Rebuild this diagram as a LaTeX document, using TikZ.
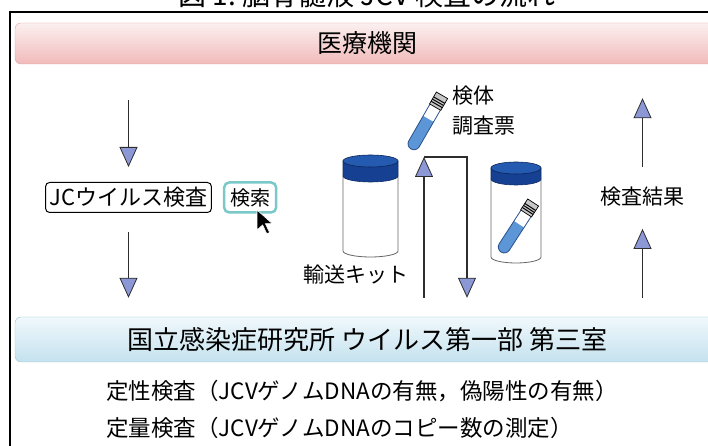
\documentclass[tikz,border=0pt]{standalone}
\usepackage{fontspec}
\setmainfont{Noto Sans CJK JP}
\usepackage{tikz}
\usetikzlibrary{arrows.meta,positioning}

\definecolor{pinktop}{RGB}{252,240,240}
\definecolor{pinkbot}{RGB}{241,186,186}
\definecolor{pinkline}{RGB}{220,160,160}
\definecolor{skytop}{RGB}{240,248,252}
\definecolor{skybot}{RGB}{196,226,238}
\definecolor{skyline}{RGB}{150,196,214}
\definecolor{headblue}{RGB}{140,152,214}
\definecolor{searchteal}{RGB}{122,200,200}
\definecolor{capblue}{RGB}{22,64,146}
\definecolor{captop}{RGB}{36,90,176}
\definecolor{liquid}{RGB}{92,150,215}
\definecolor{tubeline}{RGB}{40,80,140}
\definecolor{shaft}{RGB}{45,45,45}

\tikzstyle{bar} = [rectangle, rounded corners=6pt, minimum width=705pt, text centered, font=\fontsize{25}{30}\selectfont]
\tikzstyle{hospital} = [bar, draw=pinkline, top color=pinktop, bottom color=pinkbot, minimum height=41pt]
\tikzstyle{institute} = [bar, draw=skyline, top color=skytop, bottom color=skybot, minimum height=45pt, font=\fontsize{26}{31}\selectfont]
\tikzstyle{testbox} = [rectangle, rounded corners=4pt, draw=black, line width=1pt, inner xsep=4pt, minimum height=30pt, font=\fontsize{22}{26}\selectfont]
\tikzstyle{searchbox} = [rectangle, rounded corners=5pt, draw=searchteal, line width=2.5pt, fill=white, inner xsep=6pt, minimum height=30pt, font=\fontsize{20}{24}\selectfont]
\tikzstyle{textonly} = [draw=none, fill=none, inner sep=0pt, font=\fontsize{21}{25}\selectfont]
\tikzstyle{rowtext} = [textonly, anchor=west, font=\fontsize{22.5}{27}\selectfont]
\tikzstyle{tedge} = [draw=shaft, line width=1.8pt, -{Triangle[width=18pt,length=20pt,fill=headblue,line width=0.8pt]}]

% jar: centre x, half width, cap top, cap bottom, bottom
\newcommand{\drawjar}[5]{%
  \filldraw[fill=white, draw=gray!80!black, line width=0.8pt] (#1-#2,#4) -- (#1-#2,#5)
    arc[start angle=180, end angle=360, x radius=#2, y radius=6] -- (#1+#2,#4) -- cycle;
  \filldraw[fill=capblue, draw=capblue!70!black, line width=0.6pt] (#1-#2,#3) -- (#1-#2,#4)
    arc[start angle=180, end angle=360, x radius=#2, y radius=6] -- (#1+#2,#3) -- cycle;
  \filldraw[fill=captop, draw=capblue!60!black, line width=0.6pt] (#1,#3) ellipse[x radius=#2, y radius=6];
}
% tube: bottom end x, y, angle, length
\newcommand{\drawtube}[4]{%
  \begin{scope}[shift={(#1,#2)}, rotate=#3]
    \fill[white] (6,-6) rectangle (0.78*#4,6);
    \fill[liquid] (6,6) arc[start angle=90, end angle=270, radius=6] -- (0.56*#4,-6) -- (0.56*#4,6) -- cycle;
    \draw[tubeline, line width=0.8pt] (0.78*#4,6) -- (6,6) arc[start angle=90, end angle=270, radius=6] -- (0.78*#4,-6);
    \filldraw[fill=gray!45, draw=black, line width=0.7pt] (0.78*#4,-6.5) rectangle (#4,6.5);
    \foreach \r in {0.83,0.87,0.91}
      \draw[black, line width=1pt] (\r*#4,-6.5) -- (\r*#4,6.5);
  \end{scope}
}

\begin{document}
\begin{tikzpicture}[x=1pt, y=1pt]
\useasboundingbox (0,0) rectangle (708,446);
\clip (0,0) rectangle (708,446);

% frame and heading
\draw[line width=1.6pt] (10,-20) rectangle (740,433.7);
\node[textonly, font=\fontsize{28}{33}\selectfont, anchor=base] (title) at (367,440) {図 1.\ 脳脊髄液 JCV 検査の流れ};

% bars =============================
\node[hospital] (iryo) at (367.5,402.5) {医療機関};
\node[institute] (niid) at (367.5,106.5) {国立感染症研究所 ウイルス第一部 第三室};

% left column
\node[testbox] (jcv) at (128.5,248.5) {JCウイルス検査};
\node[searchbox, right=11pt of jcv] (kensaku) {検索};
\filldraw[fill=black, draw=white, line width=0.6pt, shift={(257,236)}, xscale=1.4, yscale=1.25]
  (0,0) -- (0,-16) -- (4,-12) -- (7,-19) -- (9,-18) -- (6,-11) -- (11,-11) -- cycle;

\path[tedge, shorten <=36pt, shorten >=15pt] (jcv.north |- iryo.south) -- (jcv);
\path[tedge, shorten <=19pt, shorten >=19pt] (jcv) -- (jcv.south |- niid.north);

% kits and tubes
\drawjar{370.5}{27.5}{285}{270}{195}
\drawjar{516}{25}{278}{267}{189}
\drawtube{411}{297}{60}{62}
\drawtube{501}{194}{57}{59}

\node[textonly] (yuso) at (355.5,171) {輸送キット};
\node[textonly, anchor=west] (chosa) at (452,320) {調査票};
\node[textonly, above=11pt of chosa.north west, anchor=south west] (kentai) {検体};

% sending and returning
\coordinate (tubeend) at (424,289);
\coordinate (turn) at (467,289);
\path[tedge, shorten <=19pt] (tubeend |- niid.north) -- (tubeend);
\path[tedge, shorten >=19pt] (tubeend) -- (turn) -- (turn |- niid.north);

% right column
\node[textonly] (kekka) at (642.5,249) {検査結果};
\path[tedge, shorten <=20pt, shorten >=34pt] (kekka) -- (kekka.north |- iryo.south);
\path[tedge, shorten <=19pt, shorten >=22pt] (kekka.south |- niid.north) -- (kekka);

% results
\node[rowtext] (teisei) at (106,55) {定性検査（JCVゲノムDNAの有無，偽陽性の有無）};
\node[rowtext] (teiryo) at (106,18) {定量検査（JCVゲノムDNAのコピー数の測定）};

\end{tikzpicture}
\end{document}
